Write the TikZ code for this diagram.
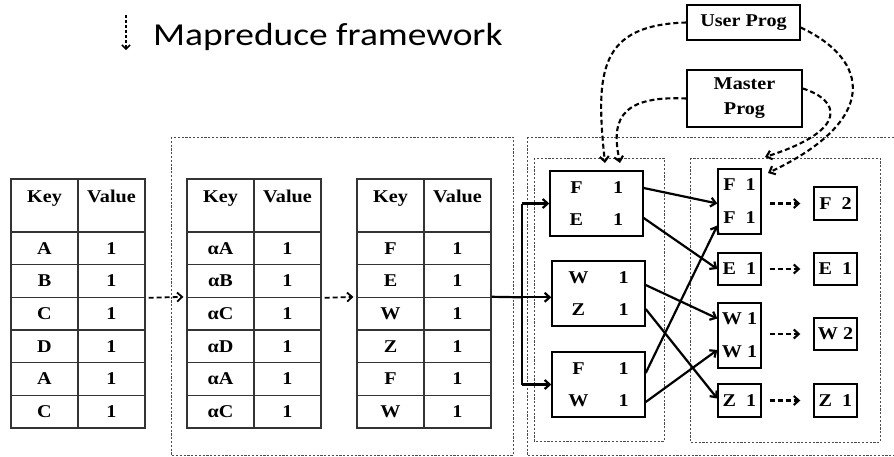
\documentclass[tikz,border=0pt]{standalone}
\usepackage{fontspec}
\setmainfont[FakeStretch=1.12]{Liberation Serif}
\newfontfamily\titlefont[FakeStretch=1.17]{Carlito}
\usetikzlibrary{arrows.meta}

\begin{document}
\begin{tikzpicture}[x=1pt,y=-1pt,
  frame/.style={draw=black!70, line width=0.7pt, dash pattern=on 2.2pt off 1.6pt},
  cell/.style={draw=black!80, line width=1.1pt, minimum width=67pt, minimum height=32.67pt,
    inner sep=0pt, font=\bfseries\fontsize{18}{20}\selectfont},
  headcell/.style={cell, minimum height=53pt, text height=13pt, text depth=20pt},
  mapbox/.style={draw, line width=1.4pt, inner sep=0pt, minimum width=93pt, minimum height=65pt,
    font=\bfseries\fontsize{18}{32}\selectfont},
  redbox/.style={draw, line width=1.4pt, inner sep=0pt, minimum width=43pt, align=center,
    font=\bfseries\fontsize{18}{33}\selectfont},
  progbox/.style={draw, line width=1.4pt, inner sep=0pt, align=center,
    font=\bfseries\fontsize{18}{25}\selectfont},
  tip/.style={-{Straight Barb[length=5pt,width=9pt]}},
  flow/.style={line width=2.2pt, tip},
  dflow/.style={line width=2.1pt, dash pattern=on 5pt off 3pt, tip},
]
\useasboundingbox (0,0) rectangle (894,456);

% title
\coordinate (ta) at (126,15);
\coordinate (tb) at (126,50);
\draw[line width=1.5pt, dash pattern=on 3pt off 2pt, -{Straight Barb[length=4pt,width=8pt]}] (ta) -- (tb);
\node[anchor=base west, inner sep=0pt, font=\titlefont\fontsize{32}{32}\selectfont] (title) at (153,45) {Mapreduce framework};

% dotted frames
\draw[frame] (171,137) rectangle (513,455);
\draw[frame] (527,137) -- (900,137);
\draw[frame] (527,137) -- (527,455) -- (900,455);
\draw[frame] (534,158) rectangle (664,441);
\draw[frame] (690,158) rectangle (880,442);

% table 1
\node[headcell] (t1kh) at (44.5,205.5) {Key};
\node[headcell] (t1vh) at (111.5,205.5) {Value};
\foreach \k [count=\i] in {A,B,C,D,A,C} {
  \node[cell] (t1k\i) at (44.5,{232+(\i-0.5)*32.67}) {\k};
  \node[cell] (t1v\i) at (111.5,{232+(\i-0.5)*32.67}) {1};
}
% table 2
\node[headcell] (t2kh) at (220.5,205.5) {Key};
\node[headcell] (t2vh) at (287.5,205.5) {Value};
\foreach \k [count=\i] in {αA,αB,αC,αD,αA,αC} {
  \node[cell] (t2k\i) at (220.5,{232+(\i-0.5)*32.67}) {\k};
  \node[cell] (t2v\i) at (287.5,{232+(\i-0.5)*32.67}) {1};
}
% table 3
\node[headcell] (t3kh) at (390.5,205.5) {Key};
\node[headcell] (t3vh) at (457.5,205.5) {Value};
\foreach \k [count=\i] in {F,E,W,Z,F,W} {
  \node[cell] (t3k\i) at (390.5,{232+(\i-0.5)*32.67}) {\k};
  \node[cell] (t3v\i) at (457.5,{232+(\i-0.5)*32.67}) {1};
}

\draw[dflow, line width=1.8pt, shorten <=3pt, shorten >=3pt] (t1v2.south east) -- (t2k3.north west);
\draw[dflow, line width=1.8pt, shorten <=3pt, shorten >=3pt] (t2v2.south east) -- (t3k3.north west);

% map outputs
\node[mapbox] (fe) at (596.5,203.5) {\begin{tabular}{@{}c@{\hspace{30pt}}c@{}}F&1\\E&1\end{tabular}};
\node[mapbox] (wz) at (598.5,293.5) {\begin{tabular}{@{}c@{\hspace{30pt}}c@{}}W&1\\Z&1\end{tabular}};
\node[mapbox] (fw) at (598.5,384.5) {\begin{tabular}{@{}c@{\hspace{30pt}}c@{}}F&1\\W&1\end{tabular}};

% split bus
\coordinate (bus) at (522,297.3);
\draw[line width=2.2pt] (t3v3.north east) -- (bus);
\draw[line width=2.2pt] (bus |- fe.west) -- (bus |- fw.west);
\draw[flow] (bus |- fe.west) -- (fe.west);
\draw[flow] (bus) -- (bus -| wz.west);
\draw[flow] (bus |- fw.west) -- (fw.west);

% grouped keys
\node[redbox, minimum height=65pt] (ff) at (739.5,201.5) {F~~1\\F~~1};
\node[redbox, minimum height=32pt] (ee) at (739.5,269) {E~~1};
\node[redbox, minimum height=65pt] (ww) at (739.5,335.5) {W 1\\W 1};
\node[redbox, minimum height=33pt] (zz) at (739.5,400.5) {Z~~1};

% reduced results
\node[redbox, minimum height=33pt] (f2) at (835.5,203.5) {F~~2};
\node[redbox, minimum height=32pt] (e1) at (835.5,269) {E~~1};
\node[redbox, minimum height=32pt] (w2) at (835.5,334) {W 2};
\node[redbox, minimum height=33pt] (z1) at (835.5,400.5) {Z~~1};

\draw[dflow, shorten <=8pt, shorten >=13pt] (ff.east |- f2.west) -- (f2.west);
\draw[dflow, shorten <=8pt, shorten >=13pt] (ee.east) -- (e1.west);
\draw[dflow, shorten <=8pt, shorten >=13pt] (ww.east |- w2.west) -- (w2.west);
\draw[dflow, shorten <=8pt, shorten >=13pt] (zz.east) -- (z1.west);

% shuffle
\draw[flow] ([yshift=15.5pt]fe.east) -- ([yshift=-2pt]ff.west);
\draw[flow] ([yshift=-14.5pt]fe.east) -- (ee.west);
\draw[flow] ([yshift=8.5pt]wz.east) -- ([yshift=17pt]ww.west);
\draw[flow] ([yshift=-15.5pt]wz.east) -- ([yshift=2pt]zz.west);
\draw[flow] ([yshift=11.5pt]fw.east) -- ([yshift=-24pt]ff.west);
\draw[flow] ([yshift=-17.5pt]fw.east) -- ([yshift=-14.5pt]ww.west);

% programs
\node[progbox, minimum width=113pt, minimum height=35pt] (up) at (743.5,22.5) {User Prog};
\node[progbox, minimum width=115pt, minimum height=57pt] (mp) at (744.5,98.5) {Master\\Prog};

\coordinate (mapin1) at (605,163);
\coordinate (mapin2) at (620,163);
\coordinate (redin1) at (768,173);
\coordinate (redin2) at (765,157);
\draw[dflow] (up.west) .. controls (600,25) and (595,70) .. (mapin1);
\draw[dflow] (mp.west) .. controls (615,95) and (612,125) .. (mapin2);
\draw[dflow] ([yshift=-5pt]up.east) .. controls (870,60) and (880,120) .. (redin1);
\draw[dflow] ([yshift=10pt]mp.east) .. controls (840,100) and (850,130) .. (redin2);
\end{tikzpicture}
\end{document}
